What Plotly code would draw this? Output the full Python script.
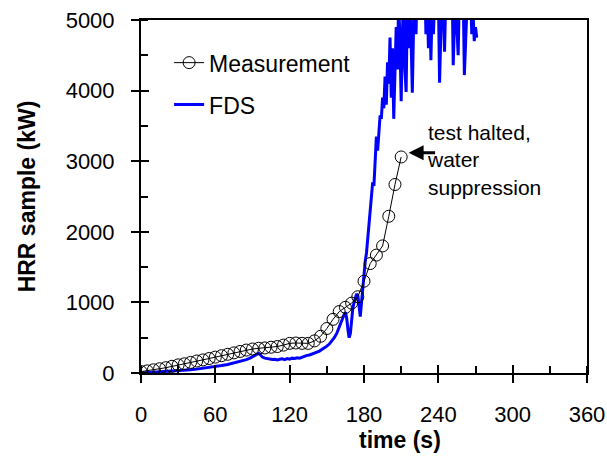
import plotly.graph_objects as go

# Measurement (time s, HRR kW)
meas_t = [0, 5, 10, 15, 20, 25, 30, 35, 40, 45, 50, 55, 60, 65, 70, 75, 80, 85, 90, 95,
          100, 105, 110, 115, 120, 125, 130, 135, 140, 145, 150, 155, 160, 165, 170, 175,
          180, 185, 190, 195, 200, 205, 210]
meas_v = [20, 30, 45, 60, 75, 95, 115, 130, 150, 170, 185, 205, 225, 245, 265, 285, 305, 325, 340, 350,
          355, 365, 375, 395, 420, 425, 420, 420, 455, 520, 630, 760, 870, 930, 990, 1080,
          1300, 1550, 1670, 1800, 2220, 2670, 3060]

# FDS prediction (time s, HRR kW)
fds_t = [0, 5, 10, 15, 20, 25, 30, 35, 40, 45, 50, 55, 60, 65, 70, 75, 80, 85, 88, 90, 92, 94, 95, 96, 97, 98,
         100, 102, 104, 106, 108, 110, 112, 114, 116, 118, 120, 122, 124, 126, 128, 130, 132, 134, 136, 138,
         140, 142, 144, 146, 148, 150, 152, 154, 156, 158, 160, 161, 162, 163, 164, 165, 166, 167, 168, 169,
         170, 171, 172, 173, 174, 175, 176, 177, 178, 179, 180, 181, 182, 183, 184, 185, 186, 187, 188, 189,
         190, 191, 192, 193, 194, 195, 196, 197, 198, 199, 200, 201, 202, 203, 204, 205, 206, 207, 208, 209,
         210, 211, 212, 213, 214, 215, 216, 217, 218, 219, 220, 221, 222, 223, 224, 225, 226, 227, 228, 229,
         230, 231, 232, 233, 234, 235, 236, 237, 238, 239, 240, 241, 242, 243, 244, 245, 246, 247, 248, 249,
         250, 251, 252, 253, 254, 255, 256, 257, 258, 259, 260, 261, 262, 263, 264, 265, 266, 267, 268, 269,
         270, 271]
fds_v = [0, 5, 10, 10, 15, 20, 30, 35, 45, 55, 65, 75, 90, 105, 120, 140, 160, 190, 210, 230, 250, 270, 280, 265, 240, 225,
         210, 200, 195, 190, 195, 185, 195, 200, 190, 205, 195, 210, 205, 215, 210, 225, 230, 250, 255, 265,
         285, 295, 310, 330, 350, 380, 410, 450, 500, 560, 650, 700, 760, 800, 830, 860, 780, 620, 500, 560,
         800, 920, 1000, 1080, 1120, 1100, 980, 800, 1000, 1220, 1400, 1580, 1700, 1900, 2100, 2350, 2500, 2700, 2650, 3000,
         3350, 3150, 3500, 3650, 3600, 3900, 3750, 4200, 3800, 4400, 4100, 4750, 3900, 4600, 3600, 4200, 4900, 4300, 5300, 4700,
         3850, 4800, 5400, 4300, 3980, 5200, 4600, 5500, 4700, 3970, 4900, 5400, 4800, 5600, 5300, 5700, 5200, 5500, 5100, 5600,
         4800, 5400, 4600, 5300, 4430, 5200, 4800, 5500, 5700, 5200, 5400, 4110, 5000, 5500, 5200, 4550, 5300, 5600, 5100, 5500,
         5300, 5700, 4360, 5200, 5500, 4900, 4500, 5400, 5600, 5100, 5500, 4220, 4900, 5300, 5600, 5000, 5400, 4800, 5100, 4700,
         4900, 4750]

x_ticks = [0, 60, 120, 180, 240, 300, 360]
y_ticks = [0, 1000, 2000, 3000, 4000, 5000]

FONT = "Arial, 'Liberation Sans', sans-serif"

fig = go.Figure()
fig.add_trace(go.Scatter(
    x=fds_t, y=fds_v, mode="lines", name="FDS",
    line=dict(color="#0000ff", width=3),
    legendgroup="b", legendrank=2,
))
fig.add_trace(go.Scatter(
    x=meas_t, y=meas_v, mode="lines+markers", name="Measurement",
    line=dict(color="black", width=1),
    marker=dict(symbol="circle-open", size=12, color="black", line=dict(width=1)),
    legendgroup="a", legendrank=1,
))
# empty trace on overlay axes so the inner half of the crossing ticks is drawn
fig.add_trace(go.Scatter(x=[], y=[], xaxis="x2", yaxis="y2", showlegend=False, hoverinfo="skip"))

axis_common = dict(
    showgrid=False, zeroline=False, showline=True, linecolor="black", linewidth=2, mirror=True,
    ticks="outside", ticklen=8, tickwidth=2, tickcolor="black", automargin=False,
    tickfont=dict(family=FONT, size=22, color="black"),
)

fig.update_layout(
    width=607, height=463,
    margin=dict(l=141, r=20, t=20, b=90, autoexpand=False),
    paper_bgcolor="white", plot_bgcolor="white",
    showlegend=True,
    legend=dict(
        x=0.063, y=0.94, xanchor="left", yanchor="top",
        font=dict(family=FONT, size=23, color="black"),
        bgcolor="rgba(0,0,0,0)", traceorder="grouped", tracegroupgap=9,
    ),
    xaxis=dict(
        range=[0, 360], tickvals=x_ticks, ticklabelstandoff=13,
        minor=dict(dtick=30, tick0=0, ticks="inside", ticklen=7, tickwidth=2, tickcolor="black"),
        **axis_common,
    ),
    yaxis=dict(
        range=[0, 5000], tickvals=y_ticks, ticklabelstandoff=12,
        minor=dict(dtick=500, tick0=0, ticks="inside", ticklen=7, tickwidth=2, tickcolor="black"),
        title=dict(text="<b>HRR sample (kW)</b>", font=dict(family=FONT, size=23, color="black"), standoff=24),
        **axis_common,
    ),
    xaxis2=dict(overlaying="x", matches="x", anchor="y2", range=[0, 360], tickvals=x_ticks,
                ticks="inside", ticklen=8, tickwidth=2, tickcolor="black", automargin=False,
                showticklabels=False, showline=False, showgrid=False, zeroline=False),
    yaxis2=dict(overlaying="y", matches="y", anchor="x2", range=[0, 5000], tickvals=y_ticks,
                ticks="inside", ticklen=8, tickwidth=2, tickcolor="black", automargin=False,
                showticklabels=False, showline=False, showgrid=False, zeroline=False),
)

# x-axis title (placed right of center as in the original)
fig.add_annotation(
    text="<b>time (s)</b>", xref="paper", yref="paper", x=0.581, y=-0.19,
    xanchor="center", yanchor="middle", showarrow=False,
    font=dict(family=FONT, size=23, color="black"),
)
# note
fig.add_annotation(
    text="test halted,<br>water<br>suppression", xref="x", yref="y", x=229, y=3010,
    xanchor="left", yanchor="middle", align="left", showarrow=False,
    font=dict(family=FONT, size=21, color="black"),
)
# arrow
fig.add_annotation(
    text="", xref="x", yref="y", x=216, y=3120, ax=28, ay=0,
    showarrow=True, arrowhead=2, arrowsize=1, arrowwidth=3, arrowcolor="black",
)

fig.write_html("out.html")
